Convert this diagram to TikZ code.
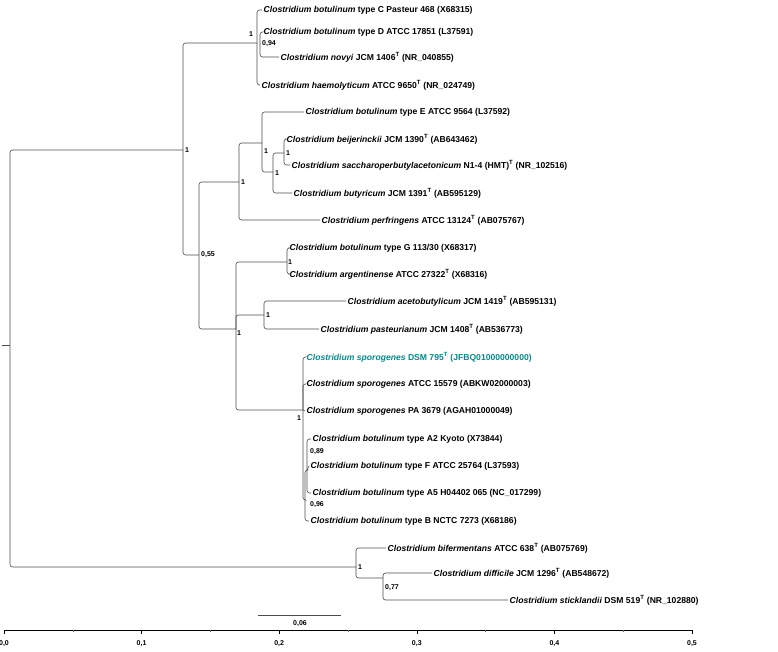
\documentclass[tikz,border=0pt]{standalone}
\usepackage{fontspec}
\setmainfont{Liberation Sans}
\begin{document}
\begin{tikzpicture}[x=1pt,y=-1pt]
    \tikzstyle{every node}=[font=\fontsize{8.6}{9}\selectfont\bfseries, inner sep=1pt, text=black]
    \tikzstyle{leaf}=[anchor=west, inner sep=1.5pt]
    \tikzstyle{edge}=[black!70, line width=0.6pt, rounded corners=2.5pt]
    \tikzstyle{supp}=[anchor=west, font=\fontsize{7}{8}\selectfont\bfseries]
    \definecolor{teal}{RGB}{0,140,140}
    \useasboundingbox (0,0) rectangle (778,651);

    % internal nodes
    \coordinate (root) at (10,345);
    \coordinate (n1) at (183,150);
    \coordinate (nc) at (257,43);
    \coordinate (nd) at (260,44);
    \coordinate (n2) at (199,255);
    \coordinate (n3) at (239,182);
    \coordinate (n4) at (262,143);
    \coordinate (n5) at (273,172);
    \coordinate (n6) at (284,153);
    \coordinate (n7) at (236,329);
    \coordinate (n8) at (287,262);
    \coordinate (n9) at (264,315);
    \coordinate (n10) at (303,410);
    \coordinate (n11) at (305,500);
    \coordinate (n12) at (307,470);
    \coordinate (n13) at (356,567);
    \coordinate (n14) at (383,578);

    % leaves
    \node[leaf] (botc) at (262,10) {\textit{Clostridium botulinum} type C Pasteur 468 (X68315)};
    \node[leaf] (botd) at (262,32) {\textit{Clostridium botulinum} type D ATCC 17851 (L37591)};
    \node[leaf] (novy) at (279,57) {\textit{Clostridium novyi} JCM 1406\textsuperscript{T} (NR\_040855)};
    \node[leaf] (haem) at (260,85) {\textit{Clostridium haemolyticum} ATCC 9650\textsuperscript{T} (NR\_024749)};
    \node[leaf] (bote) at (304,112) {\textit{Clostridium botulinum} type E ATCC 9564 (L37592)};
    \node[leaf] (beij) at (285,139) {\textit{Clostridium beijerinckii} JCM 1390\textsuperscript{T} (AB643462)};
    \node[leaf] (sacc) at (290,165) {\textit{Clostridium saccharoperbutylacetonicum} N1-4 (HMT)\textsuperscript{T} (NR\_102516)};
    \node[leaf] (buty) at (292,193) {\textit{Clostridium butyricum} JCM 1391\textsuperscript{T} (AB595129)};
    \node[leaf] (perf) at (320,220) {\textit{Clostridium perfringens} ATCC 13124\textsuperscript{T} (AB075767)};
    \node[leaf] (botg) at (288,248) {\textit{Clostridium botulinum} type G 113/30 (X68317)};
    \node[leaf] (arge) at (288,274) {\textit{Clostridium argentinense} ATCC 27322\textsuperscript{T} (X68316)};
    \node[leaf] (acet) at (346,301) {\textit{Clostridium acetobutylicum} JCM 1419\textsuperscript{T} (AB595131)};
    \node[leaf] (past) at (319,329) {\textit{Clostridium pasteurianum} JCM 1408\textsuperscript{T} (AB536773)};
    \node[leaf, text=teal] (spo1) at (305,357) {\textit{Clostridium sporogenes} DSM 795\textsuperscript{T} (JFBQ01000000000)};
    \node[leaf] (spo2) at (305,384) {\textit{Clostridium sporogenes} ATCC 15579 (ABKW02000003)};
    \node[leaf] (spo3) at (305,411) {\textit{Clostridium sporogenes} PA 3679 (AGAH01000049)};
    \node[leaf] (bota2) at (311,439) {\textit{Clostridium botulinum} type A2 Kyoto (X73844)};
    \node[leaf] (botf) at (309,466) {\textit{Clostridium botulinum} type F ATCC 25764 (L37593)};
    \node[leaf] (bota5) at (311,493) {\textit{Clostridium botulinum} type A5 H04402 065 (NC\_017299)};
    \node[leaf] (botb) at (309,521) {\textit{Clostridium botulinum} type B NCTC 7273 (X68186)};
    \node[leaf] (bife) at (386,548) {\textit{Clostridium bifermentans} ATCC 638\textsuperscript{T} (AB075769)};
    \node[leaf] (diff) at (432,573) {\textit{Clostridium difficile} JCM 1296\textsuperscript{T} (AB548672)};
    \node[leaf] (stic) at (508,600) {\textit{Clostridium sticklandii} DSM 519\textsuperscript{T} (NR\_102880)};

    % branches
    \draw[edge] (2,345) -- (root);
    \draw[edge] (root) |- (n1);
    \draw[edge] (root) |- (n13);
    \draw[edge] (n1) |- (nc);
    \draw[edge] (n1) |- (n2);
    \draw[edge] (nc) |- (botc.west);
    \draw[edge] (nc) |- (haem.west);
    \draw[edge] (nd) |- (botd.west);
    \draw[edge] (nd) |- (novy.west);
    \draw[edge] (n2) |- (n3);
    \draw[edge] (n2) |- (n7);
    \draw[edge] (n3) |- (n4);
    \draw[edge] (n3) |- (perf.west);
    \draw[edge] (n4) |- (bote.west);
    \draw[edge] (n4) |- (n5);
    \draw[edge] (n5) |- (n6);
    \draw[edge] (n5) |- (buty.west);
    \draw[edge] (n6) |- (beij.west);
    \draw[edge] (n6) |- (sacc.west);
    \draw[edge] (n7) |- (n8);
    \draw[edge] (n7) |- (n9);
    \draw[edge] (n7) |- (n10);
    \draw[edge] (n8) |- (botg.west);
    \draw[edge] (n8) |- (arge.west);
    \draw[edge] (n9) |- (acet.west);
    \draw[edge] (n9) |- (past.west);
    \draw[edge] (n10) |- (spo1.west);
    \draw[edge] (n10) |- (spo2.west);
    \draw[edge] (n10) -- (spo3.west);
    \draw[edge] (n10) |- (n11);
    \draw[edge] (n11) |- (n12);
    \draw[edge] (n11) |- (botb.west);
    \draw[edge] (n12) |- (bota2.west);
    \draw[edge] (n12) -- (botf.west);
    \draw[edge] (n12) |- (bota5.west);
    \draw[edge] (n13) |- (bife.west);
    \draw[edge] (n13) |- (n14);
    \draw[edge] (n14) |- (diff.west);
    \draw[edge] (n14) |- (stic.west);

    % support values
    \node[supp] (s1) at (184,150) {1};
    \node[supp] (sc) at (248,34) {1};
    \node[supp] (sd) at (261,44) {0,94};
    \node[supp] (s2) at (200,255) {0,55};
    \node[supp] (s3) at (240,182) {1};
    \node[supp] (s4) at (263,151) {1};
    \node[supp] (s5) at (274,173) {1};
    \node[supp] (s6) at (285,153) {1};
    \node[supp] (s7) at (236,333) {1};
    \node[supp] (s8) at (287,262) {1};
    \node[supp] (s9) at (265,315) {1};
    \node[supp] (s10) at (296,418) {1};
    \node[supp] (s12) at (309,452) {0,89};
    \node[supp] (s11) at (309,505) {0,96};
    \node[supp] (s13) at (357,567) {1};
    \node[supp] (s14) at (384,588) {0,77};

    % scale bar
    \coordinate (sb1) at (258,615);
    \coordinate (sb2) at (341,615);
    \draw[black!70, line width=0.8pt] (sb1) -- (sb2);
    \node[font=\fontsize{7}{8}\selectfont\bfseries] (sblab) at (300,624) {0,06};

    % axis
    \coordinate (ax0) at (4,630);
    \coordinate (ax1) at (692,630);
    \draw[black, line width=0.5pt] (ax0) -- (ax1);
    \foreach \i in {0,...,5} {
        \draw[black] (4+137.6*\i,630) -- (4+137.6*\i,634);
        \node[font=\fontsize{7}{8}\selectfont\bfseries] (ax\i) at (4+137.6*\i,644) {0,\i};
    }
    \foreach \i in {0,...,4}
        \draw[black!60] (72.8+137.6*\i,630) -- (72.8+137.6*\i,632);
\end{tikzpicture}
\end{document}
